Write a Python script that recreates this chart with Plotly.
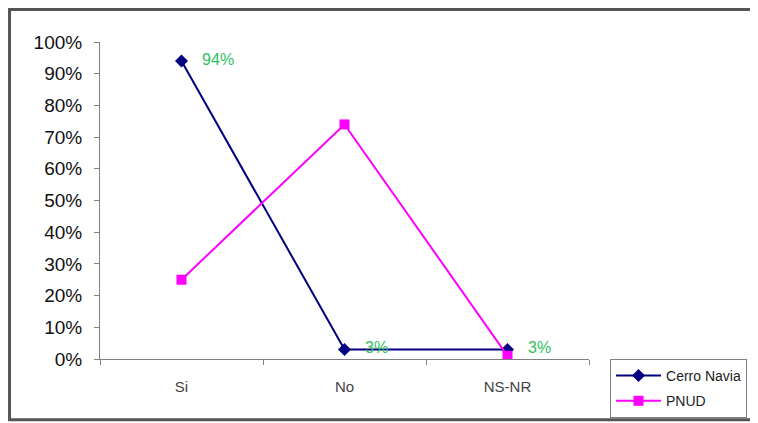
import plotly.graph_objects as go

categories = ["Si", "No", "NS-NR"]
cerro_navia = [0.94, 0.03, 0.03]
pnud = [0.25, 0.74, 0.01]
cerro_labels = ["94%", "3%", "3%"]
y_ticks = [0, 0.1, 0.2, 0.3, 0.4, 0.5, 0.6, 0.7, 0.8, 0.9, 1.0]

fig = go.Figure()
fig.add_trace(go.Scatter(
    x=categories, y=cerro_navia, name="Cerro Navia",
    mode="lines+markers+text",
    text=["   " + t for t in cerro_labels], textposition="middle right",
    textfont=dict(family="Liberation Sans, Arial", size=16, color="#2fbf5f"),
    line=dict(color="#000080", width=2),
    marker=dict(symbol="diamond", size=10, color="#000080"),
    legendgroup="a",
))
fig.add_trace(go.Scatter(
    x=categories, y=pnud, name="PNUD",
    mode="lines+markers",
    line=dict(color="#ff00ff", width=2),
    marker=dict(symbol="square", size=10, color="#ff00ff"),
    legendgroup="b",
))

fig.update_layout(
    width=758, height=423,
    margin=dict(l=92, r=177, t=34, b=72),
    paper_bgcolor="white", plot_bgcolor="white",
    font=dict(family="Liberation Sans, Arial", color="#000"),
    xaxis=dict(
        type="category", range=[-0.5, 2.5], tickson="boundaries",
        ticks="outside", ticklen=5, tickcolor="#808080",
        showline=True, linecolor="#808080", linewidth=1,
        showgrid=False, zeroline=False,
        tickfont=dict(size=15, color="#444"),
        ticklabelstandoff=14,
    ),
    yaxis=dict(
        range=[0, 1], tickvals=y_ticks, tickformat=".0%",
        ticks="outside", ticklen=5, tickcolor="#808080",
        showline=True, linecolor="#808080", linewidth=1,
        showgrid=False, zeroline=False,
        tickfont=dict(size=19, color="#111"),
        ticklabelstandoff=8,
    ),
    showlegend=True,
    legend=dict(
        x=1.043, y=0.0, xanchor="left", yanchor="top",
        bordercolor="#808080", borderwidth=1,
        font=dict(size=14, color="#222"),
        tracegroupgap=4, itemwidth=45,
    ),
    shapes=[dict(
        type="rect", xref="paper", yref="paper",
        x0=-0.185, x1=1.37, y0=-0.192, y1=1.1025,
        line=dict(color="#555", width=3), layer="below",
    )],
)

fig.write_html("out.html")
